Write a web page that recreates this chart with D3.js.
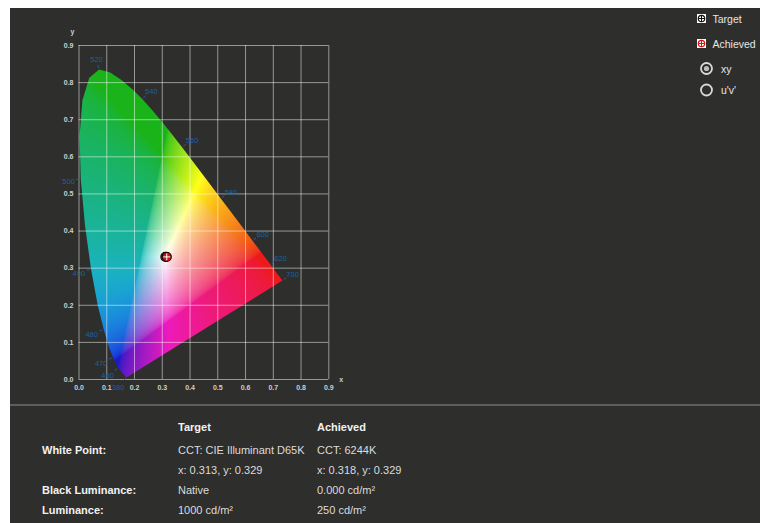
<!DOCTYPE html>
<html>
<head>
<meta charset="utf-8">
<script src="https://cdn.jsdelivr.net/npm/d3@7"></script>
<style>
  html, body { margin: 0; padding: 0; background: #ffffff; }
  svg { display: block; }
  text { font-family: "Liberation Sans", Arial, sans-serif; }
</style>
</head>
<body>
<svg id="chart" width="760" height="523"></svg>
<script>
// CIE 1931 2° spectral locus, 5 nm steps
const wavelengths = [380,385,390,395,400,405,410,415,420,425,430,435,440,445,450,455,460,465,470,475,480,485,490,495,500,505,510,515,520,525,530,535,540,545,550,555,560,565,570,575,580,585,590,595,600,605,610,615,620,625,630,635,640,645,650,655,660,665,670,675,680,685,690,695,700];
const locusX = [0.1741,0.1740,0.1738,0.1736,0.1733,0.1730,0.1726,0.1721,0.1714,0.1703,0.1689,0.1669,0.1644,0.1611,0.1566,0.1510,0.1440,0.1355,0.1241,0.1096,0.0913,0.0687,0.0454,0.0235,0.0082,0.0039,0.0139,0.0389,0.0743,0.1142,0.1547,0.1929,0.2296,0.2658,0.3016,0.3373,0.3731,0.4087,0.4441,0.4788,0.5125,0.5448,0.5752,0.6029,0.6270,0.6482,0.6658,0.6801,0.6915,0.7006,0.7079,0.7140,0.7190,0.7230,0.7260,0.7283,0.7300,0.7311,0.7320,0.7327,0.7334,0.7340,0.7344,0.7346,0.7347];
const locusY = [0.0050,0.0050,0.0049,0.0049,0.0048,0.0048,0.0048,0.0048,0.0051,0.0058,0.0069,0.0086,0.0109,0.0138,0.0177,0.0227,0.0297,0.0399,0.0578,0.0868,0.1327,0.2007,0.2950,0.4127,0.5384,0.6548,0.7502,0.8120,0.8338,0.8262,0.8059,0.7816,0.7543,0.7243,0.6923,0.6589,0.6245,0.5896,0.5547,0.5202,0.4866,0.4544,0.4242,0.3965,0.3725,0.3514,0.3340,0.3197,0.3083,0.2993,0.2920,0.2859,0.2809,0.2770,0.2740,0.2717,0.2700,0.2689,0.2680,0.2673,0.2666,0.2660,0.2656,0.2654,0.2653];
const labeledWavelengths = [380,460,470,480,490,500,520,540,560,580,600,620,700];

const axisTicks = [0,0.1,0.2,0.3,0.4,0.5,0.6,0.7,0.8,0.9];

const targetXY = [0.313, 0.329];
const achievedXY = [0.318, 0.329];

const legendItems = ["Target", "Achieved"];
const spaceOptions = ["xy", "u'v'"];
const selectedSpace = "xy";

const tableHeaders = ["Target", "Achieved"];
const tableRowLabels = ["White Point:", "", "Black Luminance:", "Luminance:"];
const targetValues = ["CCT: CIE Illuminant D65K", "x: 0.313, y: 0.329", "Native", "1000 cd/m\u00B2"];
const achievedValues = ["CCT: 6244K", "x: 0.318, y: 0.329", "0.000 cd/m\u00B2", "250 cd/m\u00B2"];

const svg = d3.select("#chart");
const BG = "#2e2e2c";

svg.append("rect").attr("x", 10).attr("y", 8).attr("width", 750).attr("height", 515).attr("fill", BG);

const x = d3.scaleLinear().domain([0, 0.9]).range([78.5, 328.3]);
const y = d3.scaleLinear().domain([0, 0.9]).range([379, 45]);

const locus = wavelengths.map((w, i) => ({ w, x: locusX[i], y: locusY[i] }));

// ---- chromaticity fill rendered per pixel, clipped to the locus ----
const px0 = Math.floor(x(0)), px1 = Math.ceil(x(0.75));
const py0 = Math.floor(y(0.85)), py1 = Math.ceil(y(0));
const W = px1 - px0, H = py1 - py0;
const canvas = document.createElement("canvas");
canvas.width = W; canvas.height = H;
const ctx = canvas.getContext("2d");
const img = ctx.createImageData(W, H);
const gammaEnc = v => v <= 0.0031308 ? 12.92 * v : 1.055 * Math.pow(v, 1 / 2.4) - 0.055;
function chromaColor(cx, cy) {
  cy = Math.max(cy, 0.003);
  const X = cx / cy, Y = 1, Z = (1 - cx - cy) / cy;
  let r = Math.max(3.2406 * X - 1.5372 * Y - 0.4986 * Z, 0);
  let g = Math.max(-0.9689 * X + 1.8758 * Y + 0.0415 * Z, 0);
  let b = Math.max(0.0557 * X - 0.2040 * Y + 1.0570 * Z, 0);
  const m = Math.max(r, g, b) || 1;
  r = gammaEnc(r / m); g = gammaEnc(g / m); b = gammaEnc(b / m);
  // soften the display: dim the green/cyan and deep-blue rims, tame magenta, lift slightly toward white
  const f = 1 - 0.33 * (1 - r) * g * g - 0.25 * (1 - r) * (1 - g) * (1 - g) * b - 0.08 * r * (1 - g);
  b *= 1 - 0.22 * r * (1 - g);
  const s = 0.1;
  return [r, g, b].map(c => 255 * (c * f * (1 - s) + s));
}
for (let j = 0; j < H; j++) {
  for (let i = 0; i < W; i++) {
    const c = chromaColor(x.invert(px0 + i + 0.5), y.invert(py0 + j + 0.5));
    const k = (j * W + i) * 4;
    img.data[k] = Math.round(c[0]);
    img.data[k + 1] = Math.round(c[1]);
    img.data[k + 2] = Math.round(c[2]);
    img.data[k + 3] = 255;
  }
}
ctx.putImageData(img, 0, 0);

const locusLine = d3.line().x(d => x(d.x)).y(d => y(d.y));
svg.append("defs").append("clipPath").attr("id", "locusClip")
  .append("path").attr("d", locusLine(locus) + "Z");

svg.append("image")
  .attr("x", px0).attr("y", py0).attr("width", W).attr("height", H)
  .attr("preserveAspectRatio", "none")
  .attr("href", canvas.toDataURL())
  .attr("clip-path", "url(#locusClip)");

// ---- grid ----
const plotW = x(0.9) - x(0), plotH = y(0) - y(0.9);
const gridX = svg.append("g").attr("transform", `translate(0,${y(0)})`)
  .call(d3.axisBottom(x).tickValues(axisTicks).tickSize(-plotH).tickFormat(""));
const gridY = svg.append("g").attr("transform", `translate(${x(0)},0)`)
  .call(d3.axisLeft(y).tickValues(axisTicks).tickSize(-plotW).tickFormat(""));
[gridX, gridY].forEach(g => {
  g.select(".domain").remove();
  g.selectAll("line").attr("stroke", "#ffffff").attr("stroke-opacity", 0.5).attr("stroke-width", 1);
});

// ---- axis labels ----
const fmt = d3.format(".1f");
const ax = svg.append("g").attr("transform", `translate(0,${y(0)})`)
  .call(d3.axisBottom(x).tickValues(axisTicks).tickSize(0).tickPadding(6).tickFormat(fmt));
const ay = svg.append("g").attr("transform", `translate(${x(0)},0)`)
  .call(d3.axisLeft(y).tickValues(axisTicks).tickSize(0).tickPadding(5).tickFormat(fmt));
[ax, ay].forEach(g => {
  g.select(".domain").remove();
  g.selectAll("text").attr("fill", "#cfcfcf").attr("font-size", 7).attr("font-weight", "bold")
    .attr("font-family", "Liberation Sans, Arial, sans-serif");
});
svg.append("text").attr("x", x(0) - 6).attr("y", y(0.9) - 11).attr("text-anchor", "middle")
  .attr("fill", "#cfcfcf").attr("font-size", 7).attr("font-weight", "bold").text("y");
svg.append("text").attr("x", x(0.9) + 13).attr("y", y(0) + 3).attr("text-anchor", "middle")
  .attr("fill", "#cfcfcf").attr("font-size", 7).attr("font-weight", "bold").text("x");

// ---- wavelength ticks and labels ----
const LABEL_BLUE = "#1d60a4";
const pts = locus.map(d => [x(d.x), y(d.y)]);
function neighbour(i, step) {
  let k = i;
  while (k + step >= 0 && k + step < pts.length) {
    k += step;
    if (Math.hypot(pts[k][0] - pts[i][0], pts[k][1] - pts[i][1]) > 5) break;
  }
  return pts[k];
}
const wl = svg.append("g");
labeledWavelengths.forEach(w => {
  const i = wavelengths.indexOf(w);
  const a = neighbour(i, -1), b = neighbour(i, 1);
  let tx = b[0] - a[0], ty = b[1] - a[1];
  const len = Math.hypot(tx, ty); tx /= len; ty /= len;
  const nx = ty, ny = -tx;              // outward normal
  const p = pts[i];
  wl.append("line")
    .attr("x1", p[0] + nx * 1.5).attr("y1", p[1] + ny * 1.5)
    .attr("x2", p[0] + nx * 4.5).attr("y2", p[1] + ny * 4.5)
    .attr("stroke", LABEL_BLUE).attr("stroke-width", 1);
  const ext = 6.5 + Math.abs(nx) * 5.5 + Math.abs(ny) * 3;
  wl.append("text")
    .attr("x", p[0] + nx * ext).attr("y", p[1] + ny * ext + 1.5 * Math.abs(nx))
    .attr("dy", "0.35em").attr("text-anchor", "middle")
    .attr("fill", LABEL_BLUE).attr("font-size", 7.5)
    .text(w);
});

// ---- white point markers ----
function marker(g, cx, cy, r, ring, fill) {
  g.append("circle").attr("cx", cx).attr("cy", cy).attr("r", r)
    .attr("fill", fill).attr("stroke", ring).attr("stroke-width", 1.2);
  g.append("line").attr("x1", cx - r + 1).attr("x2", cx + r - 1).attr("y1", cy).attr("y2", cy)
    .attr("stroke", "#ffffff").attr("stroke-width", 1);
  g.append("line").attr("x1", cx).attr("x2", cx).attr("y1", cy - r + 1).attr("y2", cy + r - 1)
    .attr("stroke", "#ffffff").attr("stroke-width", 1);
}
const mk = svg.append("g");
marker(mk, x(targetXY[0]), y(targetXY[1]), 4.5, "#111111", "#333333");
marker(mk, x(achievedXY[0]), y(achievedXY[1]), 4.5, "#2a0000", "#c81414");

// ---- legend ----
const lg = svg.append("g");
legendItems.forEach((name, i) => {
  const yy = 18.5 + i * 25;
  const col = i === 0 ? "#111111" : "#e01010";
  lg.append("rect").attr("x", 697).attr("y", yy - 4.5).attr("width", 9).attr("height", 9)
    .attr("fill", "#ffffff");
  lg.append("circle").attr("cx", 701.5).attr("cy", yy).attr("r", 3.2)
    .attr("fill", "none").attr("stroke", col).attr("stroke-width", 1.2);
  lg.append("line").attr("x1", 698.3).attr("x2", 704.7).attr("y1", yy).attr("y2", yy)
    .attr("stroke", col).attr("stroke-width", 1);
  lg.append("line").attr("x1", 701.5).attr("x2", 701.5).attr("y1", yy - 3.2).attr("y2", yy + 3.2)
    .attr("stroke", col).attr("stroke-width", 1);
  lg.append("text").attr("x", 712.5).attr("y", yy + 4).attr("fill", "#e6e6e6")
    .attr("font-size", 10.5).text(name);
});
spaceOptions.forEach((name, i) => {
  const yy = 68.5 + i * 21.5;
  lg.append("circle").attr("cx", 706.5).attr("cy", yy).attr("r", 5.5)
    .attr("fill", "none").attr("stroke", "#d8d8d8").attr("stroke-width", 1.8);
  if (name === selectedSpace) {
    lg.append("circle").attr("cx", 706.5).attr("cy", yy).attr("r", 2.6).attr("fill", "#bdbdbd");
  }
  lg.append("text").attr("x", 721).attr("y", yy + 4).attr("fill", "#e6e6e6")
    .attr("font-size", 10.5).text(name);
});

// ---- separator and summary table ----
svg.append("rect").attr("x", 10).attr("y", 404).attr("width", 750).attr("height", 2).attr("fill", "#5e5e5c");

const tb = svg.append("g").attr("font-size", 11);
const colX = [42, 178, 317];
const rowY = [431, 454, 474, 494, 514];
tableHeaders.forEach((h, i) => {
  tb.append("text").attr("x", colX[i + 1]).attr("y", rowY[0]).attr("fill", "#f2f2f2")
    .attr("font-weight", "bold").text(h);
});
tableRowLabels.forEach((lab, r) => {
  if (lab) tb.append("text").attr("x", colX[0]).attr("y", rowY[r + 1]).attr("fill", "#f2f2f2")
    .attr("font-weight", "bold").text(lab);
  tb.append("text").attr("x", colX[1]).attr("y", rowY[r + 1]).attr("fill", "#dcdcdc").text(targetValues[r]);
  tb.append("text").attr("x", colX[2]).attr("y", rowY[r + 1]).attr("fill", "#dcdcdc").text(achievedValues[r]);
});
</script>
</body>
</html>
